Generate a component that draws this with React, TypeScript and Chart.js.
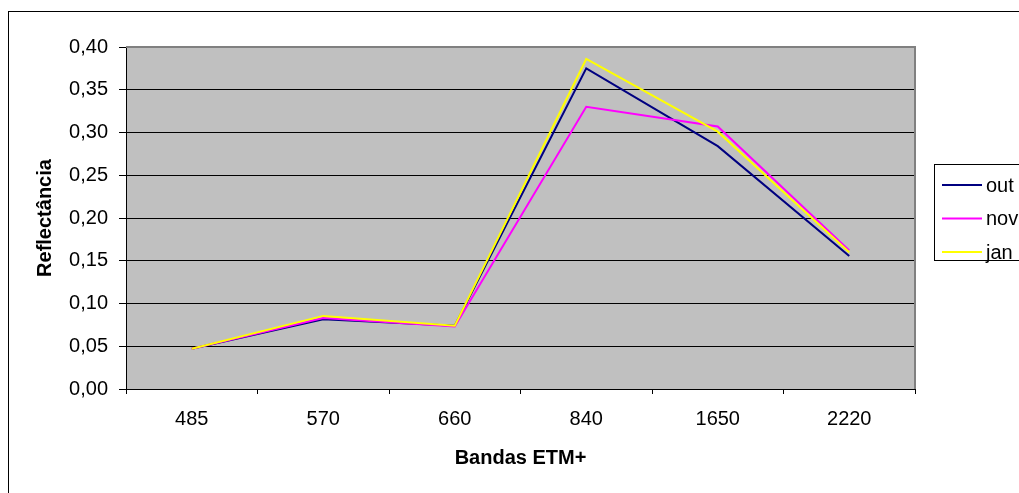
import React, { useEffect, useRef } from "react";
import { Chart, registerables } from "chart.js";

Chart.register(...registerables);

const categories = ["485", "570", "660", "840", "1650", "2220"];
const seriesOut = [0.047, 0.0815, 0.074, 0.375, 0.284, 0.1555];
const seriesNov = [0.047, 0.083, 0.073, 0.330, 0.307, 0.162];
const seriesJan = [0.047, 0.0855, 0.074, 0.386, 0.301, 0.160];
const seriesLabels = ["out", "nov", "jan"];
const seriesColors = ["#000080", "#FF00FF", "#FFFF00"];
const yTicks = { min: 0, max: 0.4, step: 0.05 };

const FONT = "'Liberation Sans', Arial, sans-serif";

const framePlugin = {
  id: "frame",
  beforeDraw(chart: any) {
    const { ctx, chartArea } = chart;
    ctx.save();
    ctx.fillStyle = "#ffffff";
    ctx.fillRect(0, 0, chart.width, chart.height);
    ctx.strokeStyle = "#000000";
    ctx.lineWidth = 1;
    ctx.strokeRect(8.5, 11.5, 3000, 3000);
    ctx.fillStyle = "#C0C0C0";
    ctx.fillRect(chartArea.left, chartArea.top, chartArea.right - chartArea.left, chartArea.bottom - chartArea.top);
    ctx.restore();
  },
  beforeDatasetsDraw(chart: any) {
    const { ctx, chartArea } = chart;
    ctx.save();
    ctx.strokeStyle = "#808080";
    ctx.lineWidth = 2;
    ctx.beginPath();
    ctx.moveTo(chartArea.left, chartArea.top);
    ctx.lineTo(chartArea.right, chartArea.top);
    ctx.lineTo(chartArea.right, chartArea.bottom);
    ctx.stroke();
    ctx.restore();
  },
  afterDraw(chart: any) {
    const { ctx } = chart;
    ctx.save();
    // legend box
    ctx.fillStyle = "#ffffff";
    ctx.fillRect(934, 164, 200, 96);
    ctx.strokeStyle = "#000000";
    ctx.lineWidth = 1;
    ctx.strokeRect(934.5, 164.5, 200, 96);
    const ys = [185, 218.5, 252];
    ctx.font = `20px ${FONT}`;
    ctx.textBaseline = "middle";
    ctx.textAlign = "left";
    chart.data.datasets.forEach((ds: any, i: number) => {
      const y = ys[i];
      ctx.strokeStyle = ds.borderColor;
      ctx.lineWidth = 2;
      ctx.beginPath();
      ctx.moveTo(942, y);
      ctx.lineTo(982, y);
      ctx.stroke();
      ctx.fillStyle = "#000000";
      ctx.fillText(ds.label, 986, y + 1);
    });
    ctx.restore();
  },
};

export default function App() {
  const ref = useRef<HTMLCanvasElement | null>(null);
  useEffect(() => {
    if (!ref.current) return;
    const data = [seriesOut, seriesNov, seriesJan];
    const chart = new Chart(ref.current, {
      type: "line",
      data: {
        labels: categories,
        datasets: data.map((d, i) => ({
          label: seriesLabels[i],
          data: d,
          borderColor: seriesColors[i],
          backgroundColor: seriesColors[i],
          borderWidth: 2,
          pointRadius: 0,
          tension: 0,
          fill: false,
          order: 3 - i,
        })),
      },
      options: {
        animation: false,
        responsive: false,
        maintainAspectRatio: false,
        layout: { padding: { left: 0, top: 47, right: 104, bottom: 0 } },
        plugins: {
          legend: { display: false },
          tooltip: { enabled: false },
        },
        scales: {
          x: {
            type: "category",
            offset: true,
            afterFit: (s: any) => {
              s.height = 104;
            },
            grid: {
              offset: true,
              drawOnChartArea: false,
              drawTicks: true,
              tickLength: 5,
              color: "#000000",
            },
            border: { display: true, color: "#000000", width: 1 },
            ticks: {
              color: "#000000",
              padding: 13,
              maxRotation: 0,
              autoSkip: false,
              font: { family: FONT, size: 20 },
            },
            title: {
              display: true,
              text: "Bandas ETM+",
              color: "#000000",
              padding: { top: 0, bottom: 23 },
              font: { family: FONT, size: 20, weight: "bold" },
            },
          },
          y: {
            min: yTicks.min,
            max: yTicks.max,
            afterFit: (s: any) => {
              s.width = 126;
            },
            grid: {
              color: "#000000",
              lineWidth: 1,
              tickLength: 7,
              drawTicks: true,
            },
            border: { display: true, color: "#000000", width: 1 },
            ticks: {
              stepSize: yTicks.step,
              color: "#000000",
              padding: 11,
              font: { family: FONT, size: 20 },
              callback: (v: any) => Number(v).toFixed(2).replace(".", ","),
            },
            title: {
              display: true,
              text: "Reflectância",
              color: "#000000",
              padding: { top: 33, bottom: 0 },
              font: { family: FONT, size: 20, weight: "bold" },
            },
          },
        },
      },
      plugins: [framePlugin],
    } as any);
    return () => chart.destroy();
  }, []);
  return (
    <div style={{ position: "fixed", left: 0, top: 0, width: 1019, height: 493, overflow: "hidden" }}>
      <canvas ref={ref} width={1019} height={493} style={{ display: "block", width: 1019, height: 493 }} />
    </div>
  );
}
